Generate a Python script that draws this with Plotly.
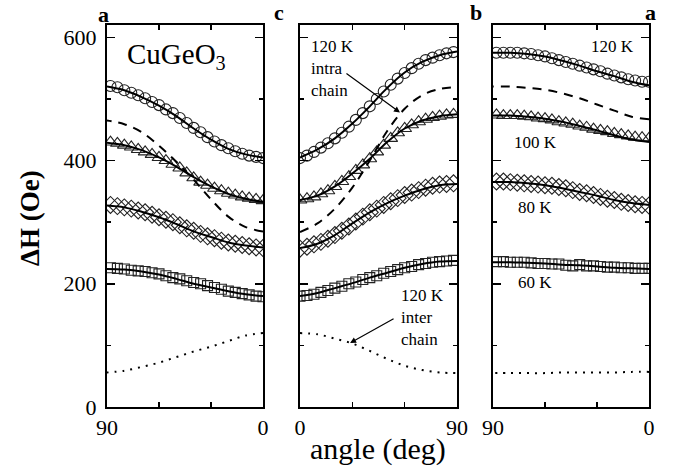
import plotly.graph_objects as go

W, H = 673, 470

# ---------------- data ----------------
# marker angles (deg) and fit-curve angles (deg)
ANG_M = [0, 4, 8, 12, 16, 20, 24, 28, 32, 36, 40, 44, 48, 52, 56, 60, 64, 68, 72, 76, 80, 84, 88]
ANG_F = [0, 10, 20, 30, 40, 50, 60, 70, 80, 90]

# Panel 1 (a -> c), angle measured from c
P1_120 = [404, 406, 408, 411, 415, 420, 425, 431, 438, 446, 453, 461, 469, 477, 483, 490, 495, 501, 506, 510, 514, 519, 521]
P1_100 = [335, 337, 339, 341, 344, 347, 351, 355, 360, 365, 372, 380, 388, 394, 400, 405, 410, 414, 418, 422, 425, 428, 430]
P1_80 = [258, 259, 261, 263, 265, 267, 270, 274, 277, 281, 286, 290, 295, 300, 304, 308, 312, 316, 319, 322, 324, 326, 328]
P1_60 = [179, 180, 182, 184, 186, 188, 191, 194, 197, 200, 202, 205, 208, 210, 213, 216, 218, 220, 221, 222, 224, 225, 226]
P1_FIT120 = [405, 410, 419, 434, 452, 472, 489, 503, 514, 520]
P1_FIT100 = [333, 338, 346, 358, 373, 390, 405, 417, 425, 429]
P1_FIT80 = [259, 262, 267, 276, 285, 297, 308, 317, 324, 327]
P1_FIT60 = [180, 183, 188, 194, 200, 208, 215, 220, 223, 224]
P1_INTRA = [285, 292, 309, 337, 369, 398, 424, 446, 459, 465]
P1_INTER = [120, 116, 107, 98, 90, 81, 72, 65, 59, 56]

# Panel 2 (c -> b), angle measured from c
P2_120 = [404, 408, 414, 421, 428, 436, 445, 455, 466, 477, 488, 500, 512, 523, 533, 542, 550, 557, 563, 567, 571, 574, 576]
P2_100 = [336, 338, 341, 346, 351, 358, 366, 374, 384, 393, 403, 414, 425, 436, 445, 452, 458, 463, 467, 470, 472, 474, 475]
P2_80 = [257, 260, 264, 268, 273, 279, 286, 293, 301, 309, 316, 322, 328, 334, 339, 344, 348, 352, 356, 359, 361, 362, 363]
P2_60 = [180, 181, 183, 186, 189, 193, 196, 200, 203, 207, 210, 213, 217, 220, 223, 226, 228, 231, 233, 235, 236, 237, 238]
P2_FIT120 = [405, 418, 436, 460, 488, 518, 543, 560, 571, 577]
P2_FIT100 = [336, 343, 358, 379, 403, 430, 452, 465, 472, 475]
P2_FIT80 = [258, 265, 279, 298, 316, 331, 343, 353, 360, 362]
P2_FIT60 = [180, 185, 193, 201, 210, 218, 226, 232, 236, 237]
P2_INTRA = [284, 298, 322, 356, 400, 448, 484, 506, 516, 519]
P2_INTER = [120, 118, 111, 103, 91, 78, 67, 60, 56, 55]

# Panel 3 (b -> a), angle measured from a
P3_120 = [528, 528, 530, 532, 535, 538, 541, 545, 548, 551, 554, 557, 560, 563, 566, 569, 571, 573, 574, 575, 575, 575, 575]
P3_100 = [436, 437, 438, 440, 442, 444, 447, 449, 451, 454, 456, 459, 461, 463, 466, 468, 469, 471, 472, 473, 473, 473, 474]
P3_80 = [327, 328, 329, 331, 333, 336, 338, 341, 344, 347, 349, 352, 355, 357, 359, 360, 361, 362, 363, 364, 365, 366, 366]
P3_60 = [225, 225, 225, 226, 226, 227, 227, 228, 229, 229, 231, 229, 230, 232, 232, 233, 233, 234, 235, 235, 235, 236, 236]
P3_FIT120 = [522, 528, 537, 545, 554, 562, 569, 573, 575, 575]
P3_FIT100 = [430, 434, 441, 449, 456, 463, 468, 471, 473, 473]
P3_FIT80 = [328, 331, 336, 343, 349, 355, 360, 363, 365, 365]
P3_FIT60 = [224, 225, 226, 228, 230, 231, 233, 234, 235, 235]
P3_INTRA = [467, 471, 481, 491, 501, 509, 515, 518, 520, 520]
P3_INTER = [57, 57, 56, 56, 56, 56, 55, 55, 55, 55]

Y_TICKS = [0, 200, 400, 600]
Y_MINOR = [100, 300, 500]
X_TICKS = [0, 30, 60, 90]

FONT = "Liberation Serif"

# ---------------- figure ----------------
fig = go.Figure()

panels = [
    ("x", "y", [P1_120, P1_100, P1_80, P1_60], [P1_FIT120, P1_FIT100, P1_FIT80, P1_FIT60], P1_INTRA, P1_INTER),
    ("x2", "y2", [P2_120, P2_100, P2_80, P2_60], [P2_FIT120, P2_FIT100, P2_FIT80, P2_FIT60], P2_INTRA, P2_INTER),
    ("x3", "y3", [P3_120, P3_100, P3_80, P3_60], [P3_FIT120, P3_FIT100, P3_FIT80, P3_FIT60], P3_INTRA, P3_INTER),
]
symbols = [("circle-open", 11), ("triangle-up-open", 12), ("diamond-open", 13), ("square-open", 10)]

for xa, ya, meas, fits, intra, inter in panels:
    for vals, (sym, sz) in zip(meas, symbols):
        fig.add_trace(go.Scatter(x=ANG_M, y=vals, xaxis=xa, yaxis=ya, mode="markers",
                                 marker=dict(symbol=sym, size=sz, color="#222",
                                             line=dict(width=1.1, color="#222")),
                                 showlegend=False, hoverinfo="skip"))
    for vals in fits:
        fig.add_trace(go.Scatter(x=ANG_F, y=vals, xaxis=xa, yaxis=ya, mode="lines",
                                 line=dict(color="black", width=2, shape="spline"),
                                 showlegend=False, hoverinfo="skip"))
    fig.add_trace(go.Scatter(x=ANG_F, y=intra, xaxis=xa, yaxis=ya, mode="lines",
                             line=dict(color="black", width=2, dash="9px,7px", shape="spline"),
                             showlegend=False, hoverinfo="skip"))
    fig.add_trace(go.Scatter(x=ANG_F, y=inter, xaxis=xa, yaxis=ya, mode="lines",
                             line=dict(color="black", width=2, dash="2px,6px", shape="spline"),
                             showlegend=False, hoverinfo="skip"))

ydom = [1 - 407 / H, 1 - 25 / H]
xdoms = [[107 / W, 263 / W], [300 / W, 457 / W], [493 / W, 649 / W]]
xranges = [[90, 0], [0, 90], [90, 0]]

common_ax = dict(showline=True, linewidth=2, linecolor="black", mirror="ticks",
                 showgrid=False, zeroline=False, ticks="inside", tickcolor="black",
                 tickwidth=1.5, automargin=False,
                 tickfont=dict(family=FONT, size=22, color="black"))

layout = dict(width=W, height=H, margin=dict(l=0, r=0, t=0, b=0, autoexpand=False),
              paper_bgcolor="white", plot_bgcolor="white",
              font=dict(family=FONT, color="black"), showlegend=False)

for i in range(3):
    sx = "" if i == 0 else str(i + 1)
    layout["xaxis" + sx] = dict(common_ax, domain=xdoms[i], range=xranges[i], anchor="y" + sx,
                                tickvals=X_TICKS, ticktext=["0", "", "", "90"], ticklen=5)
    layout["yaxis" + sx] = dict(common_ax, domain=ydom, range=[0, 620], anchor="x" + sx,
                                tickvals=Y_TICKS, ticktext=[str(v) for v in Y_TICKS],
                                ticklen=8, showticklabels=(i == 0), ticklabelstandoff=4,
                                minor=dict(tickvals=Y_MINOR, ticklen=4, ticks="inside",
                                           tickcolor="black", tickwidth=1.5))

fig.update_layout(**layout)


def P(px, py):
    return px / W, 1 - py / H


def text(px, py, s, size, xanchor="center", yanchor="middle", angle=0, align="center"):
    x, y = P(px, py)
    fig.add_annotation(x=x, y=y, xref="paper", yref="paper", text=s, showarrow=False,
                       xanchor=xanchor, yanchor=yanchor, textangle=angle, align=align,
                       font=dict(family=FONT, size=size, color="black"))


# panel axis letters
text(103, 15, "<b>a</b>", 22)
text(279, 13, "<b>c</b>", 22)
text(476, 13, "<b>b</b>", 22)
text(650, 12, "<b>a</b>", 22)

# compound label
text(125, 56, "CuGeO<sub>3</sub>", 29, xanchor="left")

# temperature labels panel 3
text(612, 47, "120 K", 17)
text(535, 142, "100 K", 17)
text(535, 207, "80 K", 17)
text(535, 282, "60 K", 17)

# annotation labels panel 2
text(309, 68, "120 K<br>intra<br>chain", 17, xanchor="left", align="left")
text(399, 317, "120 K<br>inter<br>chain", 17, xanchor="left", align="left")

# arrows (in panel-2 data coordinates)
fig.add_annotation(x=57.3, y=478, xref="x2", yref="y2", ax=-55, ay=-40, text="",
                   showarrow=True, arrowhead=2, arrowsize=1, arrowwidth=1.2, arrowcolor="black")
fig.add_annotation(x=28.7, y=104, xref="x2", yref="y2", ax=45, ay=-25, text="",
                   showarrow=True, arrowhead=2, arrowsize=1, arrowwidth=1.2, arrowcolor="black")

# axis titles
text(30, 218, "<b>ΔH (Oe)</b>", 27, angle=-90)
text(378, 449, "angle (deg)", 30)

fig.write_html("out.html", config={"displayModeBar": False, "staticPlot": True},
               post_script="document.body.style.margin='0px';document.body.style.overflow='hidden';")
